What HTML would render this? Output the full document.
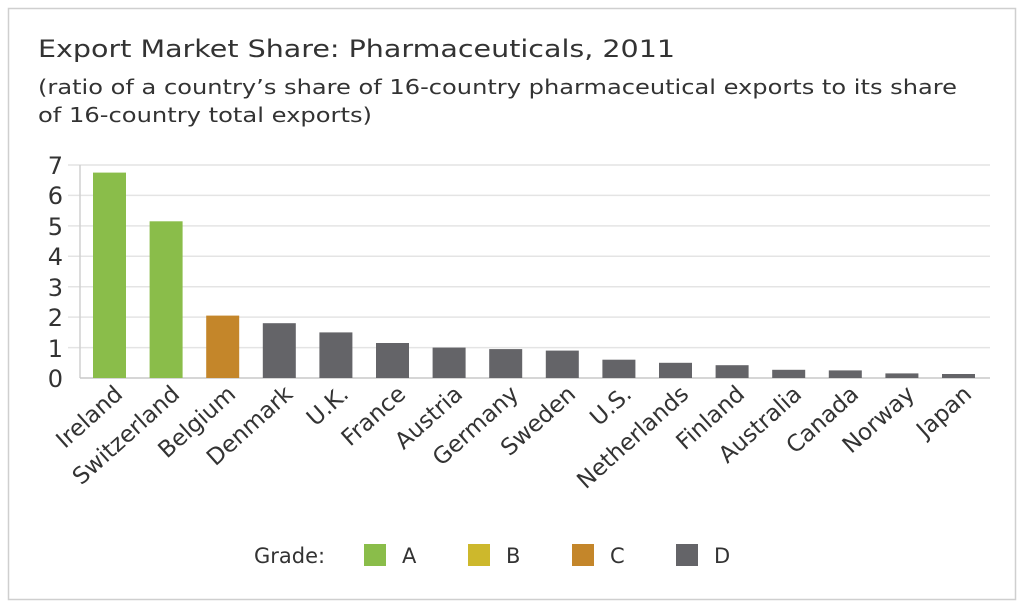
<!DOCTYPE html>
<html><head><meta charset="utf-8"><style>
html,body{margin:0;padding:0;background:#fff;}
svg{display:block;font-family:"DejaVu Sans","Liberation Sans",sans-serif;}
</style></head><body>
<svg width="1024" height="607" viewBox="0 0 1024 607">
<rect x="8.5" y="8.5" width="1007" height="591" fill="#fff" stroke="#cfcfcf" stroke-width="1.5"/>
<text x="38" y="57" font-size="24" fill="#333" textLength="637" lengthAdjust="spacingAndGlyphs">Export Market Share: Pharmaceuticals, 2011</text>
<text x="38" y="94" font-size="20" fill="#333" textLength="919" lengthAdjust="spacingAndGlyphs">(ratio of a country’s share of 16-country pharmaceutical exports to its share</text>
<text x="38" y="122" font-size="20" fill="#333" textLength="334" lengthAdjust="spacingAndGlyphs">of 16-country total exports)</text>
<g stroke="#e4e4e4" stroke-width="1.5">
<line x1="68" x2="990" y1="165" y2="165"/><line x1="68" x2="990" y1="195.4" y2="195.4"/>
<line x1="68" x2="990" y1="225.9" y2="225.9"/><line x1="68" x2="990" y1="256.3" y2="256.3"/>
<line x1="68" x2="990" y1="286.7" y2="286.7"/><line x1="68" x2="990" y1="317.1" y2="317.1"/>
<line x1="68" x2="990" y1="347.6" y2="347.6"/>
</g>
<line x1="80" x2="80" y1="165" y2="378" stroke="#d0d0d0" stroke-width="1.5"/>
<line x1="80" x2="990" y1="378" y2="378" stroke="#c8c8c8" stroke-width="1.5"/>
<g font-size="24" fill="#333" text-anchor="end">
<text x="63" y="174">7</text><text x="63" y="204">6</text><text x="63" y="235">5</text>
<text x="63" y="265">4</text><text x="63" y="296">3</text><text x="63" y="326">2</text>
<text x="63" y="357">1</text><text x="63" y="387">0</text>
</g>
<g>
<rect x="93" y="172.6" width="33" height="205.4" fill="#8abd4a"/>
<rect x="149.6" y="221.3" width="33" height="156.7" fill="#8abd4a"/>
<rect x="206.2" y="315.6" width="33" height="62.4" fill="#c4862a"/>
<rect x="262.8" y="323.2" width="33" height="54.8" fill="#646468"/>
<rect x="319.4" y="332.4" width="33" height="45.6" fill="#646468"/>
<rect x="376" y="343" width="33" height="35" fill="#646468"/>
<rect x="432.6" y="347.6" width="33" height="30.4" fill="#646468"/>
<rect x="489.2" y="349.1" width="33" height="28.9" fill="#646468"/>
<rect x="545.8" y="350.6" width="33" height="27.4" fill="#646468"/>
<rect x="602.4" y="359.7" width="33" height="18.3" fill="#646468"/>
<rect x="659" y="362.8" width="33" height="15.2" fill="#646468"/>
<rect x="715.6" y="365.2" width="33" height="12.8" fill="#646468"/>
<rect x="772.2" y="369.8" width="33" height="8.2" fill="#646468"/>
<rect x="828.8" y="370.4" width="33" height="7.6" fill="#646468"/>
<rect x="885.4" y="373.4" width="33" height="4.6" fill="#646468"/>
<rect x="942" y="374" width="33" height="4" fill="#646468"/>
</g>
<g font-size="23" fill="#333" text-anchor="end">
<text transform="translate(124,396) rotate(-42)">Ireland</text>
<text transform="translate(181,396) rotate(-42)">Switzerland</text>
<text transform="translate(237,396) rotate(-42)">Belgium</text>
<text transform="translate(294,396) rotate(-42)">Denmark</text>
<text transform="translate(350,396) rotate(-42)">U.K.</text>
<text transform="translate(407,396) rotate(-42)">France</text>
<text transform="translate(464,396) rotate(-42)">Austria</text>
<text transform="translate(520,396) rotate(-42)">Germany</text>
<text transform="translate(577,396) rotate(-42)">Sweden</text>
<text transform="translate(633,396) rotate(-42)">U.S.</text>
<text transform="translate(690,396) rotate(-42)">Netherlands</text>
<text transform="translate(746,396) rotate(-42)">Finland</text>
<text transform="translate(803,396) rotate(-42)">Australia</text>
<text transform="translate(860,396) rotate(-42)">Canada</text>
<text transform="translate(916,396) rotate(-42)">Norway</text>
<text transform="translate(973,396) rotate(-42)">Japan</text>
</g>
<g font-size="21" fill="#333">
<text x="254" y="563">Grade:</text>
<rect x="364" y="544" width="22" height="22" fill="#8abd4a"/><text x="402" y="563">A</text>
<rect x="468" y="544" width="22" height="22" fill="#cdb82c"/><text x="506" y="563">B</text>
<rect x="572" y="544" width="22" height="22" fill="#c4862a"/><text x="610" y="563">C</text>
<rect x="676" y="544" width="22" height="22" fill="#646468"/><text x="714" y="563">D</text>
</g>
</svg>
</body></html>
